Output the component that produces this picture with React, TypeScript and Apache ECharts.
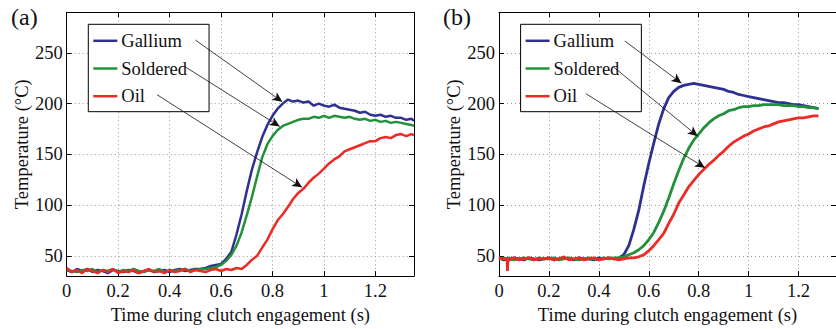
import React, { useEffect, useRef } from "react";
import * as echarts from "echarts";

const FONT = "Liberation Serif";

const seriesNames = ["Gallium", "Soldered", "Oil"];
const seriesColors = ["#2e3192", "#23903a", "#ec2a26"];

const xTicks = [0, 0.2, 0.4, 0.6, 0.8, 1, 1.2];
const yTicks = [50, 100, 150, 200, 250];

// Panel (a)
const timeA = [
  0.0, 0.02, 0.04, 0.06, 0.08, 0.1, 0.12, 0.14, 0.16, 0.18, 0.2, 0.22, 0.24, 0.26, 0.28, 0.3, 0.32, 0.34, 0.36, 0.38,
  0.4, 0.42, 0.44, 0.46, 0.48, 0.5, 0.52, 0.54, 0.56, 0.58, 0.6, 0.62, 0.64, 0.66, 0.68, 0.7, 0.72, 0.74, 0.76, 0.78,
  0.8, 0.82, 0.84, 0.86, 0.88, 0.9, 0.92, 0.94, 0.96, 0.98, 1.0, 1.02, 1.04, 1.06, 1.08, 1.1, 1.12, 1.14, 1.16, 1.18,
  1.2, 1.22, 1.24, 1.26, 1.28, 1.3, 1.32, 1.34, 1.35,
];
const galliumA = [
  36, 34, 37, 35, 37, 34, 36, 35, 33, 36, 35, 34, 36, 35, 33, 35, 36, 34, 35, 36,
  34, 36, 37, 35, 36, 37, 37, 38, 40, 41, 42, 47, 54, 71, 91, 114, 135, 152, 167, 179,
  188, 195, 200, 204, 202, 203, 201, 202, 198, 200, 198, 197, 199, 196, 195, 194, 193, 191, 192, 189,
  188, 189, 187, 188, 186, 186, 184, 185, 183,
];
const solderedA = [
  36, 35, 34, 36, 35, 37, 34, 36, 35, 37, 34, 36, 35, 37, 35, 34, 36, 35, 37, 34,
  36, 35, 36, 37, 35, 36, 37, 37, 38, 39, 41, 45, 51, 60, 73, 90, 108, 128, 147, 160,
  168, 174, 178, 180, 182, 184, 185, 185, 187, 186, 188, 186, 188, 187, 186, 187, 185, 184, 185, 183,
  184, 182, 183, 181, 182, 181, 180, 179, 178,
];
const oilA = [
  38, 34, 36, 33, 37, 35, 33, 36, 34, 37, 33, 35, 34, 36, 33, 35, 37, 34, 35, 33,
  36, 34, 35, 37, 34, 36, 35, 34, 36, 37, 35, 37, 36, 38, 37, 41, 46, 50, 58, 66,
  76, 85, 91, 98, 106, 112, 116, 122, 127, 131, 136, 141, 145, 148, 153, 155, 157, 159, 161, 163,
  163, 166, 167, 166, 169, 170, 168, 170, 169,
];

// Panel (b)
const timeB = [
  0.0, 0.02, 0.032, 0.034, 0.036, 0.04, 0.06, 0.08, 0.1, 0.12, 0.14, 0.16, 0.18, 0.2, 0.22, 0.24, 0.26, 0.28, 0.3, 0.32,
  0.34, 0.36, 0.38, 0.4, 0.42, 0.44, 0.46, 0.48, 0.5, 0.52, 0.54, 0.56, 0.58, 0.6, 0.62, 0.64, 0.66, 0.68, 0.7, 0.72,
  0.74, 0.76, 0.78, 0.8, 0.82, 0.84, 0.86, 0.88, 0.9, 0.92, 0.94, 0.96, 0.98, 1.0, 1.02, 1.04, 1.06, 1.08, 1.1, 1.12,
  1.14, 1.16, 1.18, 1.2, 1.22, 1.24, 1.26, 1.28,
];
const galliumB = [
  48, 46, 47, 48, 47, 46, 48, 47, 46, 48, 47, 46, 47, 48, 46, 47, 48, 47, 46, 48,
  47, 47, 46, 48, 47, 48, 47, 48, 51, 60, 76, 95, 119, 141, 161, 180, 195, 206, 212, 216,
  218, 219, 220, 219, 218, 217, 216, 215, 214, 212, 211, 209, 208, 207, 206, 205, 204, 203, 202, 201,
  201, 200, 199, 199, 198, 197, 196, 195,
];
const solderedB = [
  47, 48, 46, 47, 47, 48, 46, 47, 48, 47, 46, 48, 47, 47, 48, 46, 47, 48, 47, 46,
  47, 48, 47, 46, 48, 47, 48, 48, 49, 51, 53, 56, 60, 66, 73, 83, 94, 107, 121, 134,
  146, 156, 164, 170, 176, 181, 185, 188, 190, 193, 194, 196, 197, 197, 198, 198, 199, 199, 199, 199,
  198, 198, 198, 197, 197, 196, 196, 195,
];
const oilB = [
  48, 47, 47, 35, 47, 46, 48, 46, 47, 48, 46, 47, 47, 48, 46, 47, 49, 46, 47, 48,
  46, 47, 48, 46, 47, 48, 47, 46, 47, 48, 48, 49, 51, 55, 60, 66, 72, 82, 91, 102,
  110, 118, 124, 130, 135, 140, 144, 149, 153, 158, 162, 165, 168, 170, 173, 175, 177, 178, 180, 182,
  183, 184, 185, 186, 186, 187, 188, 188,
];

// Annotation arrows: [start, end] in data coordinates
const arrowsA = [
  [[0.5, 262.7], [0.838, 201.8]],
  [[0.461, 236.2], [0.828, 177.5]],
  [[0.351, 208.8], [0.915, 117.5]],
];
const arrowsB = [
  [[0.504, 261.7], [0.731, 220.1]],
  [[0.4585, 236.2], [0.796, 167.9]],
  [[0.348, 209.8], [0.825, 136.7]],
];

const X_MIN = 0;
const X_MAX = 1.35;
const Y_MIN = 30;
const Y_MAX = 290;

const GRID_LEFTS = [66.7, 499];
const GRID_TOP = 12.3;
const GRID_W = 347.3;
const GRID_H = 270.4;

function zip(t: number[], v: number[]) {
  return t.map((x, i) => [x, v[i]]);
}

function buildOption() {
  const grids = GRID_LEFTS.map((left) => ({ left, top: GRID_TOP, width: GRID_W, height: GRID_H, containLabel: false }));
  const xAxes: any[] = [];
  const yAxes: any[] = [];
  const axisLineStyle = { color: "#000", width: 1 };
  const txt = { fontFamily: FONT, fontSize: 18.5, color: "#111" };
  [0, 1].forEach((g) => {
    xAxes.push({
      type: "value",
      gridIndex: g,
      position: "bottom",
      min: X_MIN,
      max: X_MAX,
      name: "Time during clutch engagement (s)",
      nameLocation: "middle",
      nameGap: 22,
      nameTextStyle: txt,
      axisLine: { show: true, onZero: false, lineStyle: axisLineStyle },
      axisTick: { show: true, inside: true, length: 5, customValues: xTicks, lineStyle: axisLineStyle },
      axisLabel: { show: true, customValues: xTicks, margin: 5, ...txt },
      splitLine: { show: true, lineStyle: { color: "#9a9a9a", width: 1, type: [1, 3] } },
    });
    xAxes.push({
      type: "value",
      gridIndex: g,
      position: "top",
      min: X_MIN,
      max: X_MAX,
      axisLine: { show: true, onZero: false, lineStyle: axisLineStyle },
      axisTick: { show: true, inside: true, length: 5, customValues: xTicks, lineStyle: axisLineStyle },
      axisLabel: { show: false },
      splitLine: { show: false },
    });
    yAxes.push({
      type: "value",
      gridIndex: g,
      position: "left",
      min: Y_MIN,
      max: Y_MAX,
      name: "Temperature (°C)",
      nameLocation: "middle",
      nameGap: 32,
      nameTextStyle: txt,
      axisLine: { show: true, onZero: false, lineStyle: axisLineStyle },
      axisTick: { show: true, inside: true, length: 5, customValues: yTicks, lineStyle: axisLineStyle },
      axisLabel: { show: true, customValues: yTicks, margin: 4, ...txt },
      splitLine: { show: true, lineStyle: { color: "#9a9a9a", width: 1, type: [1, 3] } },
    });
    yAxes.push({
      type: "value",
      gridIndex: g,
      position: "right",
      min: Y_MIN,
      max: Y_MAX,
      axisLine: { show: true, onZero: false, lineStyle: axisLineStyle },
      axisTick: { show: true, inside: true, length: 5, customValues: yTicks, lineStyle: axisLineStyle },
      axisLabel: { show: false },
      splitLine: { show: false },
    });
  });

  const panels = [
    { time: timeA, values: [galliumA, solderedA, oilA], arrows: arrowsA, width: 2.5 },
    { time: timeB, values: [galliumB, solderedB, oilB], arrows: arrowsB, width: 2.8 },
  ];
  const series: any[] = [];
  panels.forEach((p, g) => {
    p.values.forEach((vals, i) => {
      series.push({
        type: "line",
        name: seriesNames[i],
        xAxisIndex: g * 2,
        yAxisIndex: g * 2,
        data: zip(p.time, vals),
        showSymbol: false,
        symbol: "none",
        lineStyle: { color: seriesColors[i], width: p.width },
        itemStyle: { color: seriesColors[i] },
        z: 2 + i,
        markLine: {
          silent: true,
          symbol: ["none", "arrow"],
          symbolSize: [7, 10],
          label: { show: false },
          lineStyle: { color: "#111", width: 0.8, type: "solid" },
          emphasis: { disabled: true },
          data: [[{ coord: p.arrows[i][0] }, { coord: p.arrows[i][1] }]],
        },
      });
    });
  });

  const legends = GRID_LEFTS.map((gl) => ({
    data: seriesNames,
    orient: "vertical",
    left: gl + 21.6,
    top: 24.3,
    icon: "rect",
    itemWidth: 24,
    itemHeight: 2.5,
    itemGap: 8.7,
    padding: [7, 22, 6, 5],
    borderColor: "#000",
    borderWidth: 1,
    backgroundColor: "#fff",
    selectedMode: false,
    textStyle: { fontFamily: FONT, fontSize: 18.5, color: "#111", lineHeight: 18, padding: [0, 0, 0, -1] },
  }));

  return {
    animation: false,
    backgroundColor: "#fff",
    textStyle: { fontFamily: FONT },
    title: [
      { text: "(a)", left: 11, top: 5, padding: 0, textStyle: { fontFamily: FONT, fontSize: 24, fontWeight: "normal", color: "#111" } },
      { text: "(b)", left: 443, top: 5, padding: 0, textStyle: { fontFamily: FONT, fontSize: 24, fontWeight: "normal", color: "#111" } },
    ],
    legend: legends,
    grid: grids,
    xAxis: xAxes,
    yAxis: yAxes,
    series,
  };
}

export default function App() {
  const ref = useRef<HTMLDivElement>(null);
  useEffect(() => {
    if (!ref.current) return;
    const chart = echarts.init(ref.current, undefined, { renderer: "svg" });
    chart.setOption(buildOption() as any);
    return () => chart.dispose();
  }, []);
  return <div ref={ref} style={{ position: "absolute", left: 0, top: 0, width: 836, height: 329 }} />;
}
